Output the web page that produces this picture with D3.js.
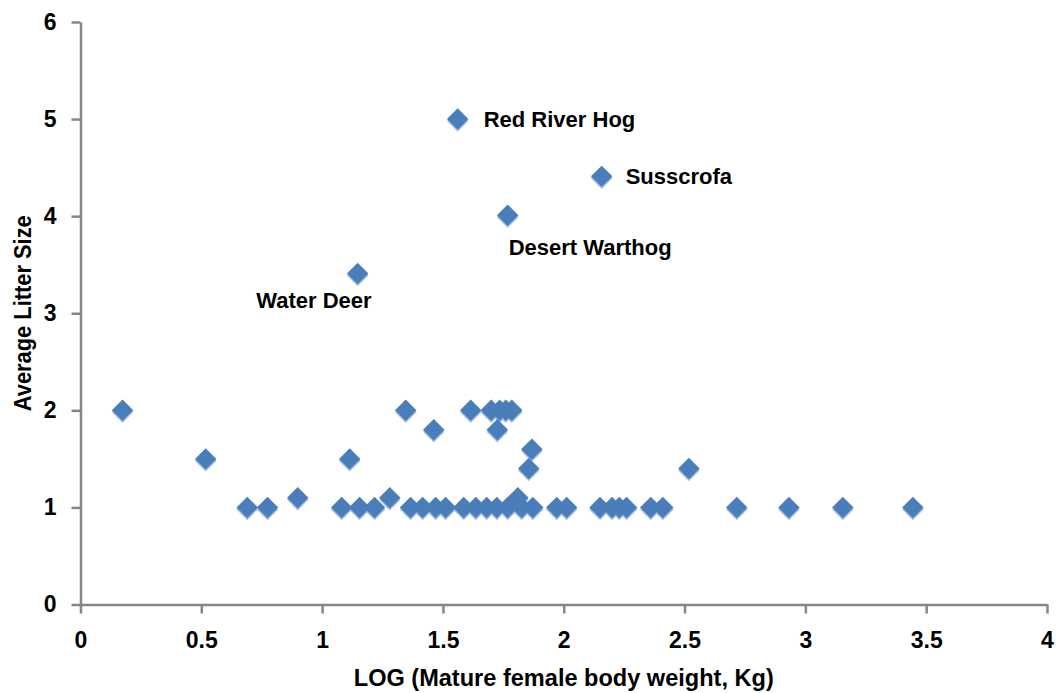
<!DOCTYPE html>
<html>
<head>
<meta charset="utf-8">
<script src="https://cdn.jsdelivr.net/npm/d3@7"></script>
<style>
  body { margin: 0; background: #fff; }
  text { font-family: "Liberation Sans", Arial, sans-serif; font-weight: bold; fill: #000; }
</style>
</head>
<body>
<div id="chart-container"></div>
<script>
// log10 of mature female body weight (kg)
const logWeight = [
    0.174, 0.518, 0.69, 0.774, 0.899, 1.081, 1.114, 1.155, 1.217, 1.28,
    1.346, 1.366, 1.416, 1.462, 1.470, 1.511, 1.586, 1.615, 1.636, 1.681,
    1.70, 1.723, 1.725, 1.735, 1.76, 1.768, 1.785, 1.81, 1.826, 1.855,
    1.868, 1.872, 1.971, 2.012, 2.15, 2.20, 2.23, 2.26, 2.36, 2.41,
    2.518, 2.716, 2.932, 3.155, 3.445
];
// average litter size
const litterSize = [
    2, 1.5, 1, 1, 1.1, 1, 1.5, 1, 1, 1.1,
    2, 1, 1, 1.8, 1, 1, 1, 2, 1, 1,
    2, 1, 1.8, 2, 2, 1, 2, 1.1, 1, 1.4,
    1.6, 1, 1, 1, 1, 1, 1, 1, 1, 1,
    1.4, 1, 1, 1, 1
];

// named species
const namedSpecies = ["Red River Hog", "Susscrofa", "Desert Warthog", "Water Deer"];
const namedLogWeight = [1.561, 2.157, 1.768, 1.147];
const namedLitterSize = [5.0, 4.41, 4.01, 3.41];

const xTicks = [0, 0.5, 1, 1.5, 2, 2.5, 3, 3.5, 4];
const yTicks = [0, 1, 2, 3, 4, 5, 6];

const margin = { top: 22, right: 10, bottom: 88, left: 80.5 };
const width = 1057 - margin.left - margin.right;
const height = 693 - margin.top - margin.bottom;

const x = d3.scaleLinear().domain([0, 4]).range([0, 966.5]);
const y = d3.scaleLinear().domain([0, 6]).range([height - 0.5, 0]);

const svg = d3.select("#chart-container")
    .append("svg")
    .attr("width", 1057)
    .attr("height", 693)
    .append("g")
    .attr("transform", `translate(${margin.left},${margin.top})`);

const axisColor = "#868686";

// y axis
const yAxis = svg.append("g")
    .call(d3.axisLeft(y).tickValues(yTicks).tickSize(9).tickSizeOuter(0).tickPadding(15)
        .tickFormat(d3.format("d")));
yAxis.select(".domain").attr("stroke", axisColor).attr("stroke-width", 2.5);
yAxis.selectAll(".tick line").attr("stroke", axisColor).attr("stroke-width", 2.5);
yAxis.selectAll(".tick text").style("font-size", "23px");

// x axis
const xAxis = svg.append("g")
    .attr("transform", `translate(0,${y(0)})`)
    .call(d3.axisBottom(x).tickValues(xTicks).tickSize(9).tickSizeOuter(0).tickPadding(18)
        .tickFormat(d => d));
xAxis.select(".domain").attr("stroke", axisColor).attr("stroke-width", 2.5);
xAxis.selectAll(".tick line").attr("stroke", axisColor).attr("stroke-width", 2.5);
xAxis.selectAll(".tick text").style("font-size", "23px");

// axis titles
svg.append("text")
    .attr("x", x(2))
    .attr("y", 664)
    .attr("text-anchor", "middle")
    .attr("textLength", 420)
    .attr("lengthAdjust", "spacingAndGlyphs")
    .style("font-size", "24px")
    .text("LOG (Mature female body weight, Kg)");

svg.append("text")
    .attr("transform", `translate(${31 - margin.left},${y(3)}) rotate(-90)`)
    .attr("text-anchor", "middle")
    .attr("textLength", 196)
    .attr("lengthAdjust", "spacingAndGlyphs")
    .style("font-size", "24px")
    .text("Average Litter Size");

// points
const points = logWeight.map((v, i) => ({ x: v, y: litterSize[i] }))
    .concat(namedLogWeight.map((v, i) => ({ x: v, y: namedLitterSize[i], name: namedSpecies[i] })));

const diamond = d3.symbol().type(d3.symbolSquare).size(230);

// soft lower edge like the Excel marker shadow
svg.append("g").selectAll("path")
    .data(points)
    .join("path")
    .attr("d", diamond)
    .attr("transform", d => `translate(${x(d.x)},${y(d.y) + 2}) rotate(45)`)
    .attr("fill", "#a6bfe0");

svg.append("g").selectAll("path")
    .data(points)
    .join("path")
    .attr("d", diamond)
    .attr("transform", d => `translate(${x(d.x)},${y(d.y)}) rotate(45)`)
    .attr("fill", "#4a7ebb");

// labels next to the named species
const labelPlace = {
    "Red River Hog": { dx: 26, dy: 8, anchor: "start" },
    "Susscrofa": { dx: 24, dy: 8, anchor: "start" },
    "Desert Warthog": { dx: 1, dy: 40, anchor: "start" },
    "Water Deer": { dx: 14, dy: 35, anchor: "end" }
};

svg.append("g").selectAll("text")
    .data(points.filter(d => d.name))
    .join("text")
    .attr("x", d => x(d.x) + labelPlace[d.name].dx)
    .attr("y", d => y(d.y) + labelPlace[d.name].dy)
    .attr("text-anchor", d => labelPlace[d.name].anchor)
    .style("font-size", "22px")
    .text(d => d.name);
</script>
</body>
</html>
